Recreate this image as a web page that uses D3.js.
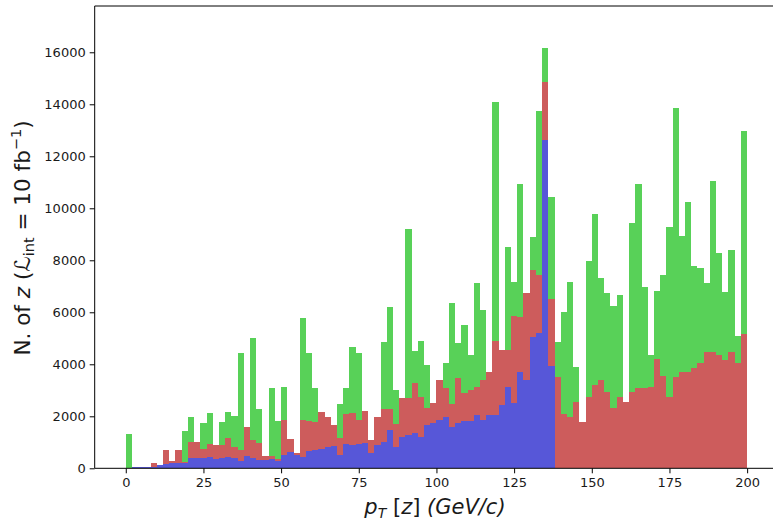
<!DOCTYPE html>
<html>
<head>
<meta charset="utf-8">
<script src="https://cdn.jsdelivr.net/npm/d3@7"></script>
<style>
  body { margin: 0; background: #fff; }
  svg { display: block; }
  text { font-family: "DejaVu Sans", sans-serif; fill: #1a1a1a; }
</style>
</head>
<body>
<svg id="chart" width="773" height="522"></svg>
<script>
// Histogram of p_T[z], 2 GeV/c bins from 0 to 200, three stacked samples
const binWidth = 2;
const binStart = d3.range(0, 200, binWidth);

const blueCounts = [
  0, 40, 40, 50, 60, 115, 170, 190, 220, 220,
  385, 385, 400, 420, 350, 380, 420, 400, 280, 470,
  400, 320, 320, 340, 280, 510, 640, 510, 450, 680,
  700, 730, 830, 870, 510, 920, 900, 920, 960, 600,
  900, 1030, 1470, 800, 1220, 1280, 1350, 1190, 1670, 1730,
  1860, 1990, 1600, 1730, 1800, 1800, 2050, 1860, 2050, 2050,
  2440, 3140, 2500, 3720, 3400, 5040, 5190, 12630, 3940, 0,
  0, 0, 0, 0, 0, 0, 0, 0, 0, 0,
  0, 0, 0, 0, 0, 0, 0, 0, 0, 0,
  0, 0, 0, 0, 0, 0, 0, 0, 0, 0
];

const redCounts = [
  0, 0, 0, 0, 145, 0, 535, 105, 485, 30,
  641, 615, 350, 530, 547, 520, 730, 400, 420, 1107,
  700, 641, 154, 134, 70, 1349, 475, 93, 1409, 1153,
  1095, 1449, 1131, 797, 644, 1157, 1215, 939, 1245, 490,
  1061, 1239, 799, 913, 1472, 1412, 1919, 1566, 638, 796,
  1537, 1087, 861, 1732, 1085, 1213, 1091, 1537, 1668, 2860,
  2111, 1411, 3372, 2080, 3356, 2588, 2246, 2240, 2560, 3526,
  2100, 1987, 2564, 1795, 2756, 3205, 3397, 2949, 2308, 2756,
  2564, 2949, 3077, 3077, 3141, 4192, 3551, 2756, 3526, 3718,
  3718, 3846, 4038, 4487, 4487, 4359, 4167, 4487, 4064, 5154
];

const greenCounts = [
  1308, 0, 0, 0, 0, 0, 0, 0, 0, 1199,
  961, 0, 981, 1178, 0, 869, 1029, 1225, 3740, 0,
  3900, 1308, 0, 2616, 1450, 1282, 0, 0, 3935, 2616,
  1282, 0, 0, 0, 1307, 1025, 2564, 2590, 0, 0,
  0, 2590, 3949, 1300, 0, 6500, 1257, 2141, 1666, 0,
  0, 961, 3885, 1346, 2628, 1346, 3974, 2693, 0, 9190,
  0, 3949, 1307, 5123, 0, 1282, 6320, 1280, 3949, 1346,
  3925, 5167, 1346, 0, 5231, 6577, 3910, 3801, 3935, 3910,
  0, 6499, 7845, 3910, 1218, 2608, 3885, 6539, 10334, 5202,
  6538, 3944, 3662, 2643, 6553, 3910, 2628, 3923, 1036, 7820
];

const xTicks = [0, 25, 50, 75, 100, 125, 150, 175, 200];
const yTicks = [0, 2000, 4000, 6000, 8000, 10000, 12000, 14000, 16000];

const seriesKeys = ["blue", "red", "green"];
const seriesColor = { blue: "#5757d8", red: "#cd5c5c", green: "#58d158" };

// table for the stack layout
const rows = binStart.map((x0, i) => ({
  x0: x0,
  x1: x0 + binWidth,
  blue: blueCounts[i],
  red: redCounts[i],
  green: greenCounts[i]
}));

const svg = d3.select("#chart");

const x = d3.scaleLinear().domain([-10, 210]).range([94.7, 778.2]);
const y = d3.scaleLinear().domain([0, 17780]).range([468.3, 6]);

svg.append("defs").append("clipPath").attr("id", "plotClip")
  .append("rect")
  .attr("x", x(-10)).attr("y", y(17780))
  .attr("width", x(210) - x(-10)).attr("height", y(0) - y(17780));

const stacked = d3.stack().keys(seriesKeys)(rows);

const plot = svg.append("g").attr("clip-path", "url(#plotClip)");

plot.selectAll("g.series")
  .data(stacked)
  .join("g")
  .attr("class", "series")
  .attr("fill", d => seriesColor[d.key])
  .selectAll("rect")
  .data(d => d.filter(s => s[1] > s[0]))
  .join("rect")
  .attr("shape-rendering", "crispEdges")
  .attr("x", d => x(d.data.x0))
  .attr("width", d => x(d.data.x1) - x(d.data.x0))
  .attr("y", d => y(d[1]))
  .attr("height", d => y(d[0]) - y(d[1]));

// axes
const xAxis = svg.append("g")
  .attr("transform", `translate(0,${y(0)})`)
  .call(d3.axisBottom(x).tickValues(xTicks).tickSize(5).tickPadding(4).tickSizeOuter(0));

const yAxis = svg.append("g")
  .attr("transform", `translate(${x(-10)},0)`)
  .call(d3.axisLeft(y).tickValues(yTicks).tickFormat(d3.format("d"))
    .tickSize(5).tickPadding(4).tickSizeOuter(0));

[xAxis, yAxis].forEach(g => {
  g.select(".domain").remove();
  g.selectAll(".tick line").attr("stroke", "#000").attr("stroke-width", 1);
  g.selectAll(".tick text")
    .attr("font-family", "DejaVu Sans, sans-serif")
    .attr("font-size", 13)
    .attr("fill", "#1a1a1a");
});

// frame (left, top, bottom spines)
svg.append("path")
  .attr("fill", "none")
  .attr("stroke", "#000")
  .attr("stroke-width", 1)
  .attr("d", `M${x(210)},${y(17780)} H${x(-10)} V${y(0)} H${x(210)}`);

// x label: p_T [z] (GeV/c)
const xLabel = svg.append("text")
  .attr("x", 435)
  .attr("y", 514)
  .attr("text-anchor", "middle")
  .attr("font-size", 21);
xLabel.append("tspan").attr("font-style", "italic").text("p");
xLabel.append("tspan").attr("font-style", "italic").attr("font-size", 14).attr("dy", 4).text("T");
xLabel.append("tspan").attr("dy", -4).text(" [");
xLabel.append("tspan").attr("font-style", "italic").text("z");
xLabel.append("tspan").text("] ");
xLabel.append("tspan").attr("font-style", "italic").text("(GeV/c)");

// y label: N. of z (L_int = 10 fb^-1)
const yLabel = svg.append("text")
  .attr("transform", `translate(30,238) rotate(-90)`)
  .attr("text-anchor", "middle")
  .attr("font-size", 21.5);
yLabel.append("tspan").text("N. of ");
yLabel.append("tspan").attr("font-style", "italic").text("z");
yLabel.append("tspan").text(" (");
yLabel.append("tspan").attr("font-style", "italic").text("\u2112");
yLabel.append("tspan").attr("font-size", 14.5).attr("dy", 4).text("int");
yLabel.append("tspan").attr("dy", -4).text(" = 10 fb");
yLabel.append("tspan").attr("font-size", 14.5).attr("dy", -9).text("\u22121");
yLabel.append("tspan").attr("dy", 9).text(")");
</script>
</body>
</html>
